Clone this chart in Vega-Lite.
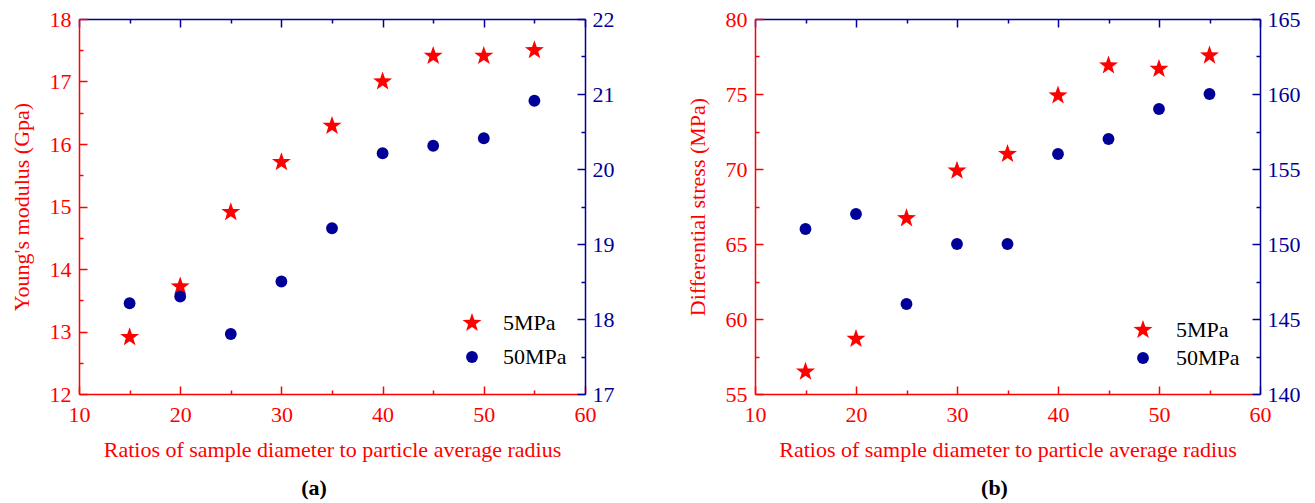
{
  "$schema": "https://vega.github.io/schema/vega-lite/v6.json",
  "padding": {"left": 10, "top": 8, "right": 5, "bottom": 5},
  "background": "white",
  "datasets": {
    "d": [
      {"panel": "a", "series": "5MPa", "ratio": 15, "value": 12.91},
      {"panel": "a", "series": "5MPa", "ratio": 20, "value": 13.72},
      {"panel": "a", "series": "5MPa", "ratio": 25, "value": 14.91},
      {"panel": "a", "series": "5MPa", "ratio": 30, "value": 15.71},
      {"panel": "a", "series": "5MPa", "ratio": 35, "value": 16.29},
      {"panel": "a", "series": "5MPa", "ratio": 40, "value": 17.0},
      {"panel": "a", "series": "5MPa", "ratio": 45, "value": 17.41},
      {"panel": "a", "series": "5MPa", "ratio": 50, "value": 17.41},
      {"panel": "a", "series": "5MPa", "ratio": 55, "value": 17.5},
      {"panel": "a", "series": "50MPa", "ratio": 15, "value": 18.21},
      {"panel": "a", "series": "50MPa", "ratio": 20, "value": 18.3},
      {"panel": "a", "series": "50MPa", "ratio": 25, "value": 17.8},
      {"panel": "a", "series": "50MPa", "ratio": 30, "value": 18.5},
      {"panel": "a", "series": "50MPa", "ratio": 35, "value": 19.21},
      {"panel": "a", "series": "50MPa", "ratio": 40, "value": 20.21},
      {"panel": "a", "series": "50MPa", "ratio": 45, "value": 20.31},
      {"panel": "a", "series": "50MPa", "ratio": 50, "value": 20.41},
      {"panel": "a", "series": "50MPa", "ratio": 55, "value": 20.91},
      {"panel": "b", "series": "5MPa", "ratio": 15, "value": 56.49},
      {"panel": "b", "series": "5MPa", "ratio": 20, "value": 58.67},
      {"panel": "b", "series": "5MPa", "ratio": 25, "value": 66.71},
      {"panel": "b", "series": "5MPa", "ratio": 30, "value": 69.89},
      {"panel": "b", "series": "5MPa", "ratio": 35, "value": 71.0},
      {"panel": "b", "series": "5MPa", "ratio": 40, "value": 74.9},
      {"panel": "b", "series": "5MPa", "ratio": 45, "value": 76.9},
      {"panel": "b", "series": "5MPa", "ratio": 50, "value": 76.67},
      {"panel": "b", "series": "5MPa", "ratio": 55, "value": 77.56},
      {"panel": "b", "series": "50MPa", "ratio": 15, "value": 151.0},
      {"panel": "b", "series": "50MPa", "ratio": 20, "value": 152.0},
      {"panel": "b", "series": "50MPa", "ratio": 25, "value": 146.0},
      {"panel": "b", "series": "50MPa", "ratio": 30, "value": 150.0},
      {"panel": "b", "series": "50MPa", "ratio": 35, "value": 150.0},
      {"panel": "b", "series": "50MPa", "ratio": 40, "value": 156.0},
      {"panel": "b", "series": "50MPa", "ratio": 45, "value": 157.0},
      {"panel": "b", "series": "50MPa", "ratio": 50, "value": 159.0},
      {"panel": "b", "series": "50MPa", "ratio": 55, "value": 160.0}
    ]
  },
  "spacing": 72,
  "hconcat": [
    {
      "width": 506,
      "height": 375,
      "title": {"text": "(a)", "orient": "bottom", "anchor": "middle", "dx": -18, "offset": 18, "fontSize": 22, "fontWeight": "bold", "color": "black", "font": "Liberation Serif"},
      "data": {"name": "d"},
      "layer": [
        {
          "transform": [{"filter": "datum.panel === 'a' && datum.series === '5MPa'"}],
          "mark": {"type": "point", "filled": true, "opacity": 1, "strokeWidth": 0},
          "encoding": {
            "x": {"field": "ratio", "type": "quantitative",
              "scale": {"domain": [10, 60], "nice": false, "zero": false},
              "axis": {"orient": "bottom", "values": [10, 15, 20, 25, 30, 35, 40, 45, 50, 55, 60], "format": "~g",
                "labelExpr": "datum.value % 10 === 0 ? datum.label : ''",
                "tickSize": {"condition": {"test": "datum.value % 10 === 0", "value": -8}, "value": -4},
                "labelPadding": 18, "labelFlush": false, "labelOverlap": false, "labelFont": "Liberation Serif",
                "title": "Ratios of sample diameter to particle average radius", "titlePadding": 10,
                "titleColor": "#ff0000", "labelColor": "#ff0000", "domainColor": "#ff0000", "tickColor": "#ff0000"}},
            "y": {"field": "value", "type": "quantitative",
              "scale": {"domain": [12, 18], "nice": false, "zero": false},
              "axis": {"orient": "left", "values": [12, 12.5, 13, 13.5, 14, 14.5, 15, 15.5, 16, 16.5, 17, 17.5, 18], "format": "~g",
                "labelExpr": "datum.value % 1 === 0 ? datum.label : ''",
                "tickSize": {"condition": {"test": "datum.value % 1 === 0", "value": -8}, "value": -4},
                "labelPadding": 16, "labelFlush": false, "labelOverlap": false, "labelFont": "Liberation Serif",
                "title": "Young's modulus (Gpa)", "titlePadding": 16,
                "titleColor": "#ff0000", "labelColor": "#ff0000", "domainColor": "#ff0000", "tickColor": "#ff0000"}},
            "color": {"field": "series", "type": "nominal", "scale": {"domain": ["5MPa", "50MPa"], "range": ["#ff0000", "#000099"]},
              "legend": {"orient": "none", "legendX": 382, "legendY": 293, "title": null, "labelFontSize": 22, "labelColor": "black", "labelFont": "Liberation Serif", "rowPadding": 12, "labelOffset": 20, "padding": 0}},
            "shape": {"field": "series", "type": "nominal", "scale": {"domain": ["5MPa", "50MPa"], "range": ["M0,-1L0.235,-0.324L0.951,-0.309L0.38,0.124L0.588,0.809L0,0.4L-0.588,0.809L-0.38,0.124L-0.951,-0.309L-0.235,-0.324Z", "circle"]}},
            "size": {"field": "series", "type": "nominal", "scale": {"domain": ["5MPa", "50MPa"], "range": [400, 140]}}
          }
        },
        {
          "transform": [{"filter": "datum.panel === 'a' && datum.series === '50MPa'"}],
          "mark": {"type": "point", "filled": true, "opacity": 1, "strokeWidth": 0},
          "encoding": {
            "x": {"field": "ratio", "type": "quantitative",
              "scale": {"domain": [10, 60], "nice": false, "zero": false},
              "axis": {"orient": "top", "values": [10, 15, 20, 25, 30, 35, 40, 45, 50, 55, 60], "labels": false, "title": null,
                "tickSize": {"condition": {"test": "datum.value % 10 === 0", "value": -8}, "value": -4},
                "domainColor": "#000099", "tickColor": "#000099"}},
            "y": {"field": "value", "type": "quantitative",
              "scale": {"domain": [17, 22], "nice": false, "zero": false},
              "axis": {"orient": "right", "values": [17, 17.5, 18, 18.5, 19, 19.5, 20, 20.5, 21, 21.5, 22], "format": "~g",
                "labelExpr": "datum.value % 1 === 0 ? datum.label : ''",
                "tickSize": {"condition": {"test": "datum.value % 1 === 0", "value": -8}, "value": -4},
                "labelPadding": 15, "labelFlush": false, "labelOverlap": false, "labelFont": "Liberation Serif", "title": null,
                "labelColor": "#000099", "domainColor": "#000099", "tickColor": "#000099"}},
            "color": {"field": "series", "type": "nominal"},
            "shape": {"field": "series", "type": "nominal"},
            "size": {"field": "series", "type": "nominal"}
          }
        }
      ],
      "resolve": {"scale": {"x": "independent", "y": "independent"}}
    },
    {
      "width": 505,
      "height": 375,
      "title": {"text": "(b)", "orient": "bottom", "anchor": "middle", "dx": -13, "offset": 18, "fontSize": 22, "fontWeight": "bold", "color": "black", "font": "Liberation Serif"},
      "data": {"name": "d"},
      "layer": [
        {
          "transform": [{"filter": "datum.panel === 'b' && datum.series === '5MPa'"}],
          "mark": {"type": "point", "filled": true, "opacity": 1, "strokeWidth": 0},
          "encoding": {
            "x": {"field": "ratio", "type": "quantitative",
              "scale": {"domain": [10, 60], "nice": false, "zero": false},
              "axis": {"orient": "bottom", "values": [10, 15, 20, 25, 30, 35, 40, 45, 50, 55, 60], "format": "~g",
                "labelExpr": "datum.value % 10 === 0 ? datum.label : ''",
                "tickSize": {"condition": {"test": "datum.value % 10 === 0", "value": -8}, "value": -4},
                "labelPadding": 18, "labelFlush": false, "labelOverlap": false, "labelFont": "Liberation Serif",
                "title": "Ratios of sample diameter to  particle average radius", "titlePadding": 10,
                "titleColor": "#ff0000", "labelColor": "#ff0000", "domainColor": "#ff0000", "tickColor": "#ff0000"}},
            "y": {"field": "value", "type": "quantitative",
              "scale": {"domain": [55, 80], "nice": false, "zero": false},
              "axis": {"orient": "left", "values": [55, 57.5, 60, 62.5, 65, 67.5, 70, 72.5, 75, 77.5, 80], "format": "~g",
                "labelExpr": "datum.value % 5 === 0 ? datum.label : ''",
                "tickSize": {"condition": {"test": "datum.value % 5 === 0", "value": -8}, "value": -4},
                "labelPadding": 16, "labelFlush": false, "labelOverlap": false, "labelFont": "Liberation Serif",
                "title": "Differential stress (MPa)", "titlePadding": 16,
                "titleColor": "#ff0000", "labelColor": "#ff0000", "domainColor": "#ff0000", "tickColor": "#ff0000"}},
            "color": {"field": "series", "type": "nominal", "scale": {"domain": ["5MPa", "50MPa"], "range": ["#ff0000", "#000099"]},
              "legend": {"orient": "none", "legendX": 377, "legendY": 300, "title": null, "labelFontSize": 22, "labelColor": "black", "labelFont": "Liberation Serif", "rowPadding": 6, "labelOffset": 22, "padding": 0}},
            "shape": {"field": "series", "type": "nominal", "scale": {"domain": ["5MPa", "50MPa"], "range": ["M0,-1L0.235,-0.324L0.951,-0.309L0.38,0.124L0.588,0.809L0,0.4L-0.588,0.809L-0.38,0.124L-0.951,-0.309L-0.235,-0.324Z", "circle"]}},
            "size": {"field": "series", "type": "nominal", "scale": {"domain": ["5MPa", "50MPa"], "range": [400, 140]}}
          }
        },
        {
          "transform": [{"filter": "datum.panel === 'b' && datum.series === '50MPa'"}],
          "mark": {"type": "point", "filled": true, "opacity": 1, "strokeWidth": 0},
          "encoding": {
            "x": {"field": "ratio", "type": "quantitative",
              "scale": {"domain": [10, 60], "nice": false, "zero": false},
              "axis": {"orient": "top", "values": [10, 15, 20, 25, 30, 35, 40, 45, 50, 55, 60], "labels": false, "title": null,
                "tickSize": {"condition": {"test": "datum.value % 10 === 0", "value": -8}, "value": -4},
                "domainColor": "#000099", "tickColor": "#000099"}},
            "y": {"field": "value", "type": "quantitative",
              "scale": {"domain": [140, 165], "nice": false, "zero": false},
              "axis": {"orient": "right", "values": [140, 142.5, 145, 147.5, 150, 152.5, 155, 157.5, 160, 162.5, 165], "format": "~g",
                "labelExpr": "datum.value % 5 === 0 ? datum.label : ''",
                "tickSize": {"condition": {"test": "datum.value % 5 === 0", "value": -8}, "value": -4},
                "labelPadding": 15, "labelFlush": false, "labelOverlap": false, "labelFont": "Liberation Serif", "title": null,
                "labelColor": "#000099", "domainColor": "#000099", "tickColor": "#000099"}},
            "color": {"field": "series", "type": "nominal"},
            "shape": {"field": "series", "type": "nominal"},
            "size": {"field": "series", "type": "nominal"}
          }
        }
      ],
      "resolve": {"scale": {"x": "independent", "y": "independent"}}
    }
  ],
  "resolve": {"scale": {"color": "independent", "shape": "independent", "size": "independent"}, "legend": {"color": "independent", "shape": "independent", "size": "independent"}},
  "config": {
    "font": "Liberation Serif",
    "view": {"stroke": null},
    "style": {"guide-label": {"font": "Liberation Serif"}, "guide-title": {"font": "Liberation Serif"}},
    "axis": {"grid": false, "labelFont": "Liberation Serif", "titleFont": "Liberation Serif", "labelFontSize": 22, "titleFontSize": 22, "titleFontWeight": "normal", "domainWidth": 1.5, "tickWidth": 1.5},
    "legend": {"labelFont": "Liberation Serif"}
  }
}
